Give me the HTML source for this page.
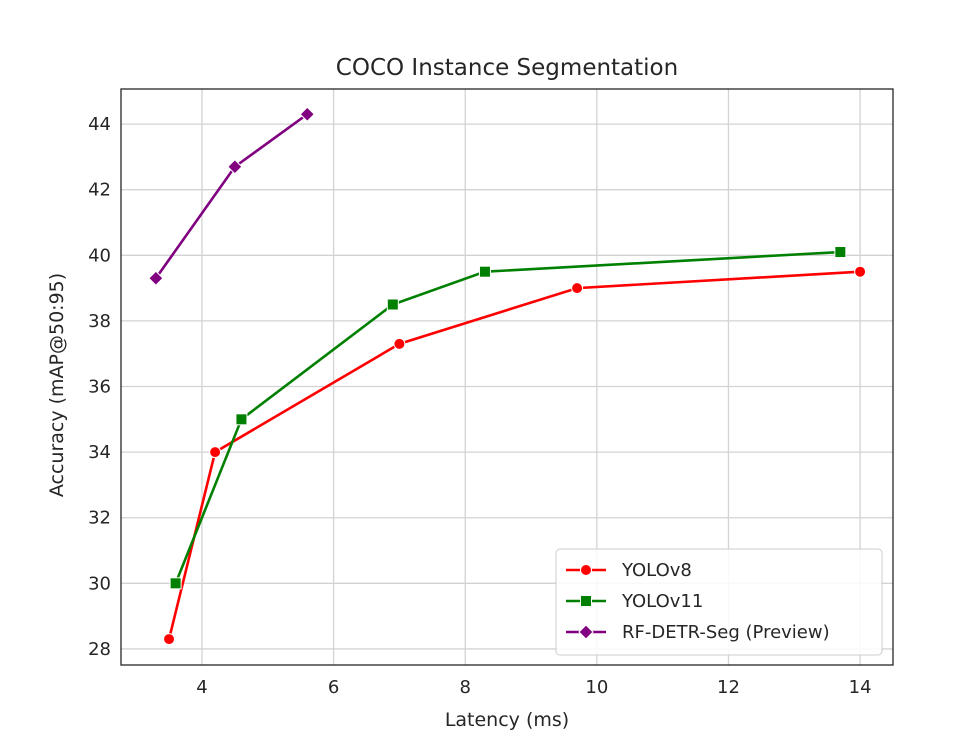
<!DOCTYPE html>
<html><head><meta charset="utf-8"><style>
body{margin:0;background:#fff;}
svg{font-family:"DejaVu Sans","Liberation Sans",sans-serif;}
</style></head><body>
<svg id="chart" width="980" height="734" xmlns="http://www.w3.org/2000/svg"></svg>
<script>
const xTicks=[4,6,8,10,12,14];
const yTicks=[28,30,32,34,36,38,40,42,44];
const yolov8X=[3.5,4.2,7.0,9.7,14.0];
const yolov8Y=[28.3,34.0,37.3,39.0,39.5];
const yolov11X=[3.6,4.6,6.9,8.3,13.7];
const yolov11Y=[30.0,35.0,38.5,39.5,40.1];
const rfX=[3.3,4.5,5.6];
const rfY=[39.3,42.7,44.3];
const seriesNames=["YOLOv8","YOLOv11","RF-DETR-Seg (Preview)"];

const L=121,R=893,T=89,B=665;
const xMin=2.77,xMax=14.5,yMin=27.51,yMax=45.07;
const sx=v=>L+(v-xMin)/(xMax-xMin)*(R-L);
const sy=v=>B-(v-yMin)/(yMax-yMin)*(B-T);
const svg=document.getElementById('chart');
const NS='http://www.w3.org/2000/svg';
function mk(tag,attrs,parent){const e=document.createElementNS(NS,tag);for(const k in attrs)e.setAttribute(k,attrs[k]);(parent||svg).appendChild(e);return e;}

const grid=mk('g',{});


xTicks.forEach(t=>{
  const l=mk('line',{x1:sx(t),x2:sx(t),y1:T,y2:B,stroke:'#d3d3d3','stroke-width':1.3},grid);
  
  
  const tx=mk('text',{x:sx(t),y:B+28,'text-anchor':'middle','font-size':18,fill:'#262626'});
  tx.textContent=t;
  
  
});
yTicks.forEach(t=>{
  const l=mk('line',{x1:L,x2:R,y1:sy(t),y2:sy(t),stroke:'#d3d3d3','stroke-width':1.3},grid);
  
  
  const tx=mk('text',{x:L-10,y:sy(t)+6,'text-anchor':'end','font-size':18,fill:'#262626'});
  tx.textContent=t;
  
  
});
const frame=mk('rect',{x:L,y:T,width:R-L,height:B-T,fill:'none',stroke:'#262626','stroke-width':1.3});



function marker(type,x,y,c,g){
  let m;
  if(type==='o') m=mk('circle',{cx:x,cy:y,r:5.5,fill:c,stroke:'#fff','stroke-width':1},g);
  else if(type==='s') m=mk('rect',{x:x-5.5,y:y-5.5,width:11,height:11,fill:c,stroke:'#fff','stroke-width':1},g);
  else m=mk('polygon',{points:`${x},${y-7} ${x+7},${y} ${x},${y+7} ${x-7},${y}`,fill:c,stroke:'#fff','stroke-width':1},g);
  return m;
}
function series(xs,ys,c,type,name){
  const g=mk('g',{});
  
  
  const p=mk('polyline',{points:xs.map((x,i)=>sx(x)+','+sy(ys[i])).join(' '),fill:'none',stroke:c,'stroke-width':2.6},g);
  
  
  xs.forEach((x,i)=>{const m=marker(type,sx(x),sy(ys[i]),c,g);
    
    });
}
series(yolov8X,yolov8Y,'#ff0000','o','yolov8');
series(yolov11X,yolov11Y,'#008000','s','yolov11');
series(rfX,rfY,'#800080','D','rf-detr-seg');

const title=mk('text',{x:(L+R)/2,y:75,'text-anchor':'middle','font-size':23,fill:'#262626'});
title.textContent='COCO Instance Segmentation';


const xl=mk('text',{x:(L+R)/2,y:726,'text-anchor':'middle','font-size':19,fill:'#262626'});
xl.textContent='Latency (ms)';


const yl=mk('text',{x:0,y:0,'text-anchor':'middle','font-size':19,fill:'#262626',transform:`translate(63,${(T+B)/2+8}) rotate(-90)`});
yl.textContent='Accuracy (mAP@50:95)';



const lg=mk('g',{});


mk('rect',{x:556,y:549,width:326,height:106,rx:4,fill:'#fff','fill-opacity':0.85,stroke:'#cccccc','stroke-width':1},lg);
const cols=['#ff0000','#008000','#800080'],types=['o','s','D'];
seriesNames.forEach((n,i)=>{
  const y=570+i*31;
  const e=mk('g',{},lg);
  
  
  mk('line',{x1:566,x2:606,y1:y,y2:y,stroke:cols[i],'stroke-width':2.6},e);
  marker(types[i],586,y,cols[i],e);
  const t=mk('text',{x:622,y:y+6,'font-size':18,fill:'#262626'},e);
  t.textContent=n;
});
</script>
</body></html>
